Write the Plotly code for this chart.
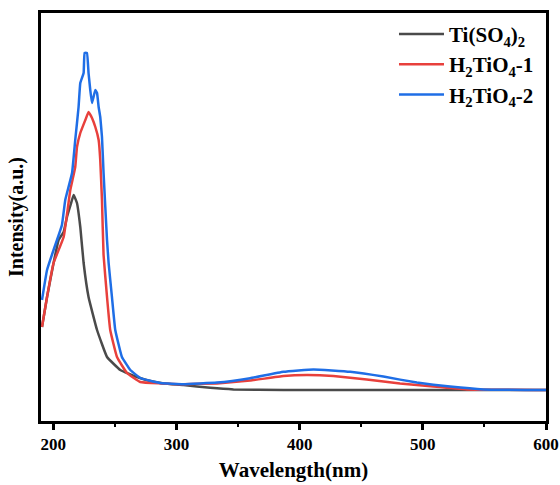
import plotly.graph_objects as go

# Ti(SO4)2
wl_ti = [190.8, 194.9, 200.2, 204.3, 208.4, 211.1, 214.0, 216.5, 219.2, 221.9, 224.6, 228.6, 235.5, 243.6,
         254.4, 267.9, 278.7, 290.0, 305.7, 327.4, 346.3, 386.9, 450.0, 520.0, 600.0]
int_ti = [23.5, 31.0, 39.5, 45.25, 47.25, 51.0, 54.0, 56.5, 54.5, 48.5, 39.5, 31.0, 22.75, 16.0,
          12.75, 11.0, 10.0, 9.4, 9.0, 8.3, 7.9, 7.75, 7.75, 7.75, 7.75]

# H2TiO4-1
wl_h1 = [190.8, 194.9, 200.2, 208.4, 213.8, 217.8, 219.2, 221.9, 226.0, 228.6, 231.4, 234.1, 236.8, 238.1,
         239.5, 240.8, 243.6, 246.2, 251.7, 259.8, 270.6, 286.8, 305.7, 332.8, 359.8, 386.9, 405.8, 427.4,
         454.5, 481.5, 508.6, 535.6, 600.0]
int_h1 = [23.5, 31.0, 39.5, 46.0, 57.75, 63.5, 68.5, 72.0, 75.25, 77.25, 75.75, 73.5, 70.25, 65.25,
          55.25, 41.5, 31.0, 22.75, 16.0, 12.0, 9.75, 9.4, 9.2, 9.4, 10.1, 11.25, 11.5, 11.25,
          10.4, 9.4, 8.6, 7.9, 7.75]

# H2TiO4-2
wl_h2 = [190.8, 194.9, 200.2, 203.0, 207.0, 209.7, 215.2, 217.8, 220.5, 221.9, 224.6, 225.4, 227.3, 228.6,
         230.0, 231.4, 234.1, 235.5, 236.8, 238.1, 239.5, 240.8, 242.2, 243.6, 244.9, 247.6, 250.3, 255.7,
         262.5, 270.6, 286.8, 305.7, 332.8, 359.8, 386.9, 411.2, 441.0, 468.0, 495.1, 522.1, 549.1, 600.0]
int_h2 = [30.25, 37.75, 42.75, 45.25, 49.0, 55.25, 62.0, 70.25, 78.5, 84.5, 87.0, 92.0, 92.0, 87.0,
          82.75, 79.5, 82.75, 82.0, 78.5, 76.0, 71.0, 62.0, 53.5, 45.25, 39.5, 31.0, 22.75, 16.0,
          12.75, 10.75, 9.5, 9.2, 9.6, 10.7, 12.3, 12.9, 12.3, 11.1, 9.6, 8.6, 7.9, 7.75]

names = ["<b>Ti(SO<sub>4</sub>)<sub>2</sub></b>", "<b>H<sub>2</sub>TiO<sub>4</sub>-1</b>",
         "<b>H<sub>2</sub>TiO<sub>4</sub>-2</b>"]
colors = ["#4a4a4a", "#e8403c", "#1f6ee6"]

x_ticks = [200, 300, 400, 500, 600]

FONT = "Liberation Serif"

fig = go.Figure()
for wl, it, nm, c in zip([wl_ti, wl_h1, wl_h2], [int_ti, int_h1, int_h2], names, colors):
    fig.add_trace(go.Scatter(x=wl, y=it, mode="lines", name=nm,
                             line=dict(color=c, width=2.5, shape="spline", smoothing=0.3)))

fig.update_layout(
    width=560, height=485,
    margin=dict(l=41, r=14, t=13, b=64),
    paper_bgcolor="white", plot_bgcolor="white",
    font=dict(family=FONT, color="black"),
    showlegend=True,
    legend=dict(x=0.699, y=0.998, xanchor="left", yanchor="top",
                font=dict(family=FONT, size=21, color="black"),
                bgcolor="rgba(0,0,0,0)", itemwidth=45),
)
fig.update_xaxes(
    range=[190, 600], tickvals=x_ticks, ticktext=[f"<b>{v}</b>" for v in x_ticks],
    ticks="outside", ticklen=6, tickwidth=2.5, tickcolor="black",
    minor=dict(ticks="outside", ticklen=3, tickwidth=2, dtick=50, tick0=200, tickcolor="black"),
    showline=True, linewidth=2.5, linecolor="black", mirror=True,
    showgrid=False, zeroline=False, automargin=False,
    tickfont=dict(family=FONT, size=17, color="black"),
    title=dict(text="<b>Wavelength(nm)</b>", font=dict(family=FONT, size=21, color="black"), standoff=10),
)
fig.update_yaxes(
    range=[0, 102], showticklabels=False, ticks="",
    showline=True, linewidth=2.5, linecolor="black", mirror=True,
    showgrid=False, zeroline=False, automargin=False,
    title=dict(text="<b>Intensity(a.u.)</b>", font=dict(family=FONT, size=20, color="black"), standoff=10),
)

fig.write_html("out.html", config={"displayModeBar": False},
               post_script="document.body.style.margin='0';")
